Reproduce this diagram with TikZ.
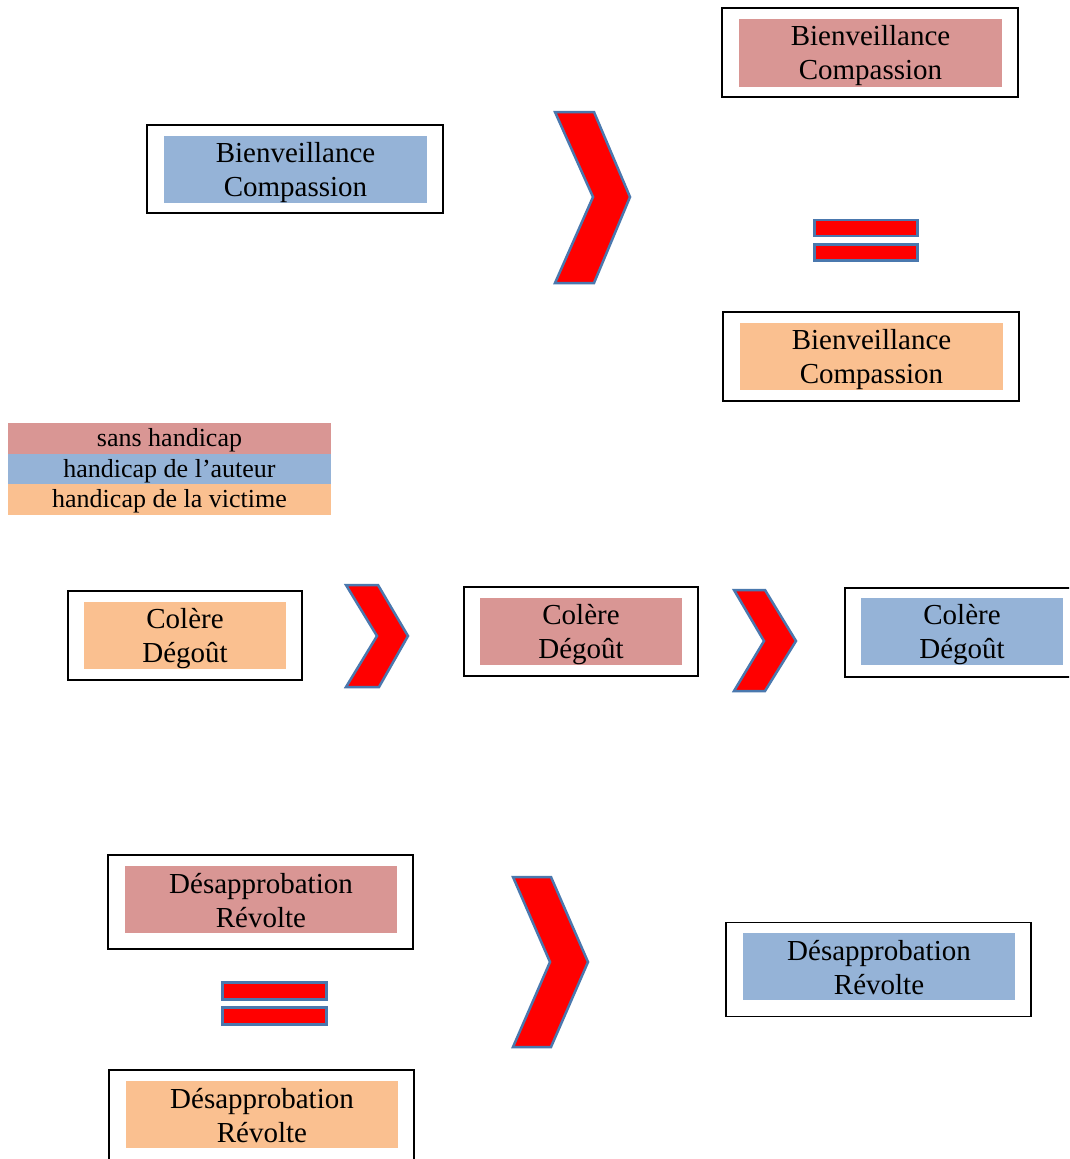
\documentclass[tikz,border=0pt]{standalone}
\usepackage{fontspec}
\setmainfont{Liberation Serif}
\definecolor{pinkc}{HTML}{D99694}
\definecolor{bluec}{HTML}{95B3D7}
\definecolor{orangec}{HTML}{FAC090}
\definecolor{edgec}{HTML}{4A78AE}
\tikzset{
  outerbox/.style={draw=black, line width=1.8pt, inner sep=0pt, fill=white},
  fillbox/.style={fill=#1, inner sep=0pt},
  lbl/.style={inner sep=0pt, align=center, font=\fontsize{29}{34}\selectfont},
  legrow/.style={fill=#1, inner sep=0pt, minimum width=323pt, minimum height=31pt},
  leglbl/.style={inner sep=0pt, font=\fontsize{26}{30}\selectfont},
  chev/.style={fill=red, draw=edgec, line width=2.5pt, line join=miter},
  eqbar/.style={fill=red, draw=edgec, line width=2.5pt, inner sep=0pt}
}
\begin{document}
\begin{tikzpicture}[x=1pt,y=-1pt]
\clip (0,0) rectangle (1069,1159);
\fill[white] (0,0) rectangle (1069,1159);

% ---- top group ----
\node[outerbox, minimum width=296pt, minimum height=88pt] (b1) at (295,169) {};
\node[fillbox=bluec, minimum width=263pt, minimum height=67pt] (b1t) at (295.5,169.5) {};
\node[lbl] (b1x) at ([yshift=-3pt]b1t.center) {Bienveillance\\Compassion};

\node[outerbox, minimum width=296pt, minimum height=89pt] (b2) at (870,52.5) {};
\node[fillbox=pinkc, minimum width=263pt, minimum height=68pt] (b2t) at (870.5,53) {};
\node[lbl] (b2x) at ([yshift=-3pt]b2t.center) {Bienveillance\\Compassion};

\node[outerbox, minimum width=296pt, minimum height=89pt] (b3) at (871,356.5) {};
\node[fillbox=orangec, minimum width=263pt, minimum height=67pt] (b3t) at (871.5,356.5) {};
\node[lbl] (b3x) at ([yshift=-3pt]b3t.center) {Bienveillance\\Compassion};

\coordinate (c1) at (593,197);
\draw[chev] (555,112) -- (594,112) -- (630,197) -- (594,283) -- (555,283) -- (c1) -- cycle;

\node[eqbar, minimum width=103pt, minimum height=16pt] (e1a) at (866,228) {};
\node[eqbar, minimum width=103pt, minimum height=16pt] (e1b) at (866,252.5) {};

% ---- legend ----
\node[legrow=pinkc] (l1) at (169.5,438.5) {};
\node[legrow=bluec] (l2) at (169.5,469) {};
\node[legrow=orangec] (l3) at (169.5,499.5) {};
\node[leglbl] (l1x) at ([yshift=-2pt]l1.center) {sans handicap};
\node[leglbl] (l2x) at ([yshift=-2pt]l2.center) {handicap de l’auteur};
\node[leglbl] (l3x) at ([yshift=-2pt]l3.center) {handicap de la victime};

% ---- middle row ----
\node[outerbox, minimum width=234pt, minimum height=89pt] (ba) at (185,635.5) {};
\node[fillbox=orangec, minimum width=202pt, minimum height=67pt] (bat) at (185,635.5) {};
\node[lbl] (bax) at ([yshift=-3pt]bat.center) {Colère\\Dégoût};

\coordinate (c2) at (377,636);
\draw[chev] (346,585) -- (378,585) -- (408,636) -- (379,687) -- (346,687) -- (c2) -- cycle;

\node[outerbox, minimum width=234pt, minimum height=89pt] (bb) at (581,631.5) {};
\node[fillbox=pinkc, minimum width=202pt, minimum height=67pt] (bbt) at (581,631.5) {};
\node[lbl] (bbx) at ([yshift=-3pt]bbt.center) {Colère\\Dégoût};

\coordinate (c3) at (764,641);
\draw[chev] (734,590) -- (765,590) -- (796,641) -- (765,691) -- (734,691) -- (c3) -- cycle;

\node[outerbox, minimum width=234pt, minimum height=89pt] (bc) at (962,632.5) {};
\node[fillbox=bluec, minimum width=202pt, minimum height=67pt] (bct) at (962,631.5) {};
\node[lbl] (bcx) at ([yshift=-3pt]bct.center) {Colère\\Dégoût};

% ---- bottom group ----
\node[outerbox, minimum width=305pt, minimum height=94pt] (bd) at (260.5,902) {};
\node[fillbox=pinkc, minimum width=272pt, minimum height=67pt] (bdt) at (261,899.5) {};
\node[lbl] (bdx) at ([yshift=-1pt]bdt.center) {Désapprobation\\Révolte};

\node[eqbar, minimum width=104pt, minimum height=17pt] (e2a) at (274.5,991) {};
\node[eqbar, minimum width=104pt, minimum height=17pt] (e2b) at (274.5,1016) {};

\node[outerbox, minimum width=305pt, minimum height=94pt] (be) at (261.5,1117) {};
\node[fillbox=orangec, minimum width=272pt, minimum height=67pt] (bet) at (262,1114.5) {};
\node[lbl] (bex) at ([yshift=-1pt]bet.center) {Désapprobation\\Révolte};

\coordinate (c4) at (550,962);
\draw[chev] (513,877) -- (551,877) -- (588,962) -- (551,1047) -- (513,1047) -- (c4) -- cycle;

\node[outerbox, minimum width=305pt, minimum height=94pt] (bf) at (878.5,969.5) {};
\node[fillbox=bluec, minimum width=272pt, minimum height=67pt] (bft) at (879,966.5) {};
\node[lbl] (bfx) at ([yshift=-1pt]bft.center) {Désapprobation\\Révolte};
\end{tikzpicture}
\end{document}
